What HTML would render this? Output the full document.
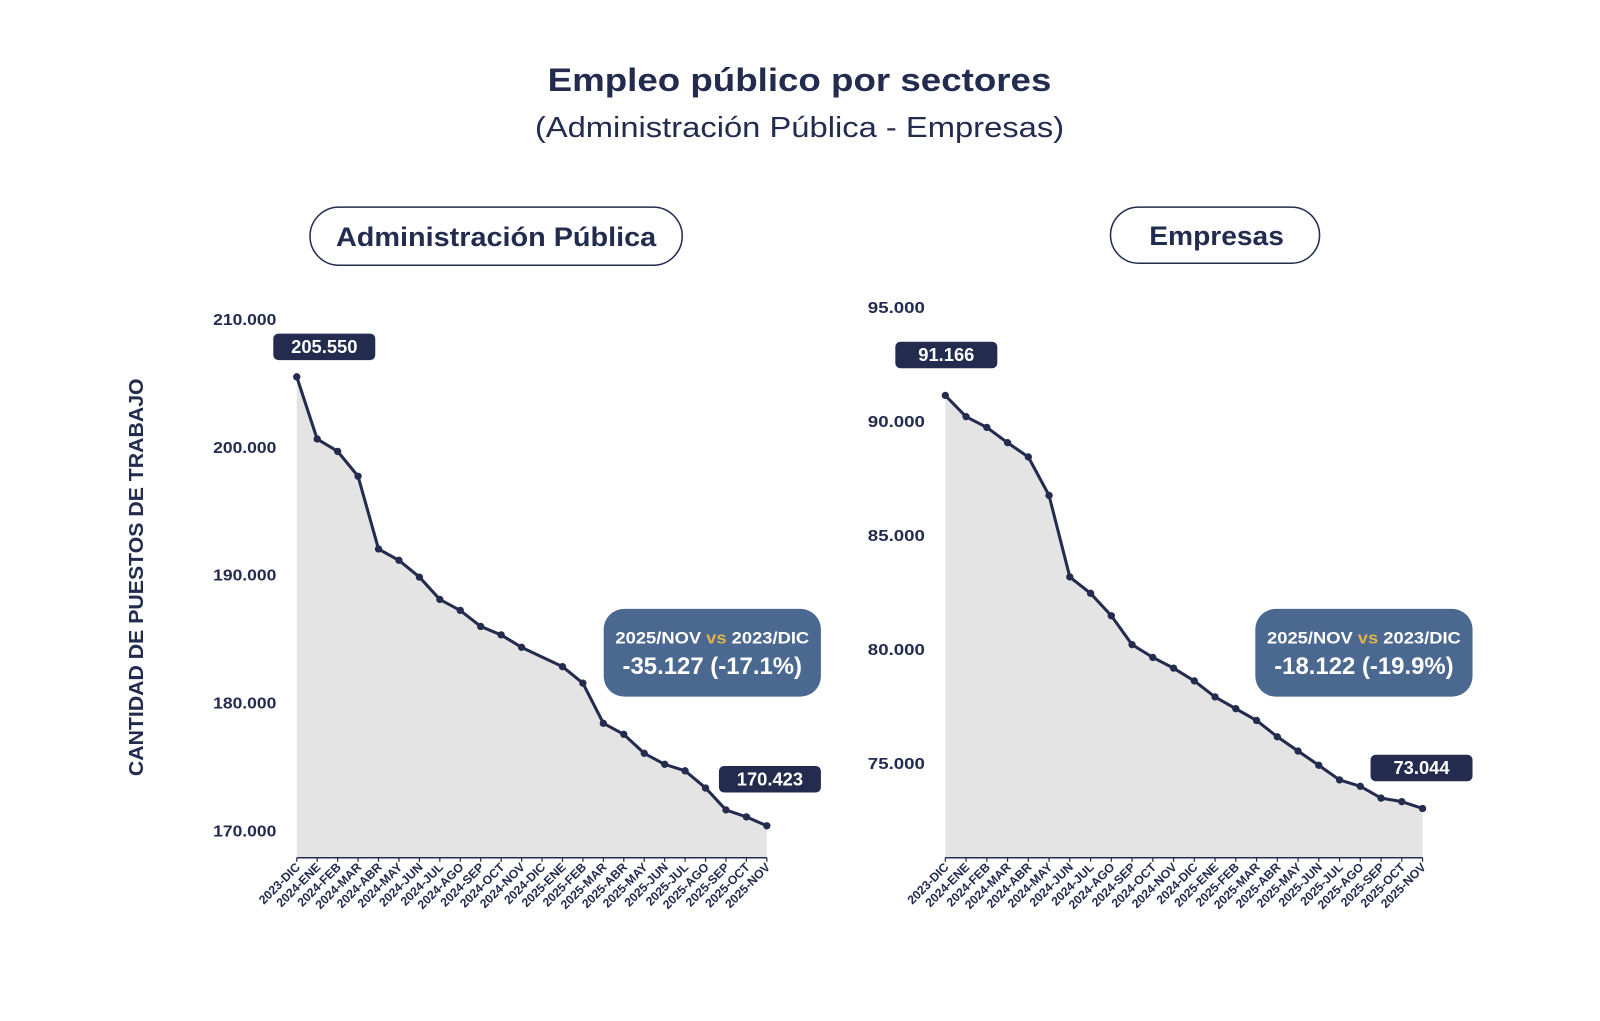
<!DOCTYPE html>
<html><head><meta charset="utf-8"><style>
html,body{margin:0;padding:0;background:#fff;width:1600px;height:1021px;overflow:hidden}
svg{display:block}
text{font-family:"Liberation Sans",sans-serif}
</style></head><body>
<svg id="s" width="1600" height="1021" viewBox="0 0 1569 1001" xmlns="http://www.w3.org/2000/svg">
<text x="784" y="89" text-anchor="middle" font-size="32" font-weight="bold" fill="#232b4e" textLength="494" lengthAdjust="spacingAndGlyphs">Empleo público por sectores</text>
<text x="784" y="134" text-anchor="middle" font-size="28" fill="#232b4e" textLength="519" lengthAdjust="spacingAndGlyphs">(Administración Pública - Empresas)</text>
<rect x="304" y="203" width="365" height="57" rx="28.5" fill="#fff" stroke="#232b4e" stroke-width="1.5"/>
<text x="486.5" y="241" text-anchor="middle" font-size="26" font-weight="bold" fill="#232b4e" textLength="314" lengthAdjust="spacingAndGlyphs">Administración Pública</text>
<rect x="1089" y="203" width="205" height="55" rx="27.5" fill="#fff" stroke="#232b4e" stroke-width="1.5"/>
<text x="1193" y="240" text-anchor="middle" font-size="26" font-weight="bold" fill="#232b4e" textLength="132" lengthAdjust="spacingAndGlyphs">Empresas</text>
<text transform="translate(140,566) rotate(-90)" text-anchor="middle" font-size="19.5" font-weight="bold" fill="#232b4e" textLength="390" lengthAdjust="spacingAndGlyphs">CANTIDAD DE PUESTOS DE TRABAJO</text>
<g id="g"></g>
</svg>
<script>
var NS="http://www.w3.org/2000/svg",g=document.getElementById('g');
function el(t,a,txt){var e=document.createElementNS(NS,t);for(var k in a)e.setAttribute(k,a[k]);if(txt!=null)e.textContent=txt;g.appendChild(e);return e;}
var labs=["2023-DIC","2024-ENE","2024-FEB","2024-MAR","2024-ABR","2024-MAY","2024-JUN","2024-JUL","2024-AGO","2024-SEP","2024-OCT","2024-NOV","2024-DIC","2025-ENE","2025-FEB","2025-MAR","2025-ABR","2025-MAY","2025-JUN","2025-JUL","2025-AGO","2025-SEP","2025-OCT","2025-NOV"];
var C="#232b4e";
function chart(o){
 var n=o.d.length,dx=(o.x1-o.x0)/(n-1);
 function Y(v){return o.ya+(v-o.va)*(o.yb-o.ya)/(o.vb-o.va);}
 var pts=o.d.map(function(v,i){return [o.x0+i*dx,Y(v)];});
 var p="M"+o.x0+","+o.ax+" "+pts.map(function(q){return "L"+q[0].toFixed(1)+","+q[1].toFixed(1)}).join(" ")+" L"+o.x1+","+o.ax+"Z";
 el("path",{d:p,fill:"#e5e4e5"});
 el("path",{d:"M"+pts.map(function(q){return q[0].toFixed(1)+","+q[1].toFixed(1)}).join(" L"),fill:"none",stroke:C,"stroke-width":3,"stroke-linejoin":"round"});
 pts.forEach(function(q,i){if(o.skip!==i)el("circle",{cx:q[0],cy:q[1],r:3.6,fill:C});});
 el("line",{x1:o.x0,y1:o.ax,x2:o.x1,y2:o.ax,stroke:C,"stroke-width":1.5});
 pts.forEach(function(q,i){el("line",{x1:q[0],y1:o.ax,x2:q[0],y2:o.ax+4,stroke:C,"stroke-width":1.2});
  el("text",{transform:"translate("+(q[0]+4)+","+(o.ax+10)+") rotate(-45)","text-anchor":"end","font-size":"12","font-weight":"bold",fill:C},labs[i]);});
 o.ticks.forEach(function(t){el("text",{x:o.tx,y:Y(t[0])+5,"text-anchor":"end","font-size":"15","font-weight":"bold",fill:C,textLength:String(o.tl),lengthAdjust:"spacingAndGlyphs"},t[1]);});
 o.boxes.forEach(function(b){el("rect",{x:b[0],y:b[1],width:100,height:26,rx:5,fill:C});el("text",{x:b[0]+50,y:b[1]+19,"text-anchor":"middle","font-size":"18","font-weight":"bold",fill:"#fff"},b[2]);});
 var ib=o.info;el("rect",{x:ib[0],y:597,width:213,height:86,rx:20,fill:"#4a6890"});
 var t=el("text",{x:ib[0]+106.5,y:631,"text-anchor":"middle","font-size":"16.5","font-weight":"bold",fill:"#fff",textLength:"190",lengthAdjust:"spacingAndGlyphs"});
 t.innerHTML='2025/NOV <tspan fill="#e0b44a">vs</tspan> 2023/DIC';
 el("text",{x:ib[0]+106.5,y:661,"text-anchor":"middle","font-size":"24","font-weight":"bold",fill:"#fff",textLength:"176",lengthAdjust:"spacingAndGlyphs"},ib[1]);
}
chart({x0:291,x1:752,ax:841,ya:439,va:200000,yb:815,vb:170000,tx:271,tl:62,skip:12,
 d:[205550,200689,199717,197772,192081,191195,189880,188135,187277,186019,185361,184389,183630,182874,181587,178441,177583,176096,175238,174723,173379,171664,171120,170423],
 ticks:[[210000,"210.000"],[200000,"200.000"],[190000,"190.000"],[180000,"180.000"],[170000,"170.000"]],
 boxes:[[268,327,"205.550"],[705,751,"170.423"]],info:[592,"-35.127 (-17.1%)"]});
chart({x0:927,x1:1395,ax:841,ya:302,va:95000,yb:749,vb:75000,tx:907,tl:56,
 d:[91166,90234,89766,89094,88469,86781,83203,82484,81500,80234,79672,79203,78641,77938,77422,76906,76188,75563,74938,74297,74016,73500,73344,73044],
 ticks:[[95000,"95.000"],[90000,"90.000"],[85000,"85.000"],[80000,"80.000"],[75000,"75.000"]],
 boxes:[[878,335,"91.166"],[1344,740,"73.044"]],info:[1231,"-18.122 (-19.9%)"]});
</script>
</body></html>
